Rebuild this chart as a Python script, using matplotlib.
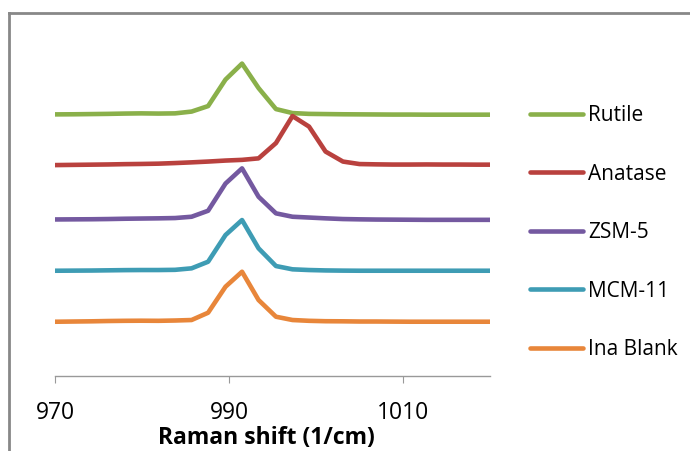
import matplotlib.pyplot as plt
from matplotlib.lines import Line2D

plt.rcParams['font.family'] = ['Open Sans', 'DejaVu Sans']

# Raman shift (1/cm)
shift = [968.4, 970.3, 972.2, 974.2, 976.1, 978.0, 979.9, 981.9, 983.8, 985.7,
         987.6, 989.6, 991.5, 993.4, 995.4, 997.3, 999.2, 1001.1, 1003.1, 1005.0,
         1006.9, 1008.8, 1010.8, 1012.7, 1014.6, 1016.5, 1018.5, 1020.4]

# stacked intensities (arbitrary units, already offset)
rutile = [26.17, 26.17, 26.18, 26.20, 26.22, 26.25, 26.27, 26.25, 26.27, 26.45,
          27.00, 29.65, 31.25, 28.80, 26.70, 26.30, 26.22, 26.20, 26.18, 26.17,
          26.16, 26.15, 26.15, 26.14, 26.14, 26.14, 26.14, 26.14]
anatase = [21.08, 21.10, 21.12, 21.14, 21.16, 21.19, 21.21, 21.24, 21.30, 21.37,
           21.45, 21.55, 21.62, 21.77, 23.30, 26.00, 24.95, 22.45, 21.45, 21.20,
           21.17, 21.15, 21.15, 21.16, 21.15, 21.15, 21.14, 21.14]
zsm5 = [15.65, 15.66, 15.67, 15.68, 15.70, 15.73, 15.75, 15.77, 15.80, 15.93,
        16.53, 19.25, 20.77, 17.93, 16.27, 15.93, 15.85, 15.77, 15.70, 15.67,
        15.65, 15.64, 15.63, 15.62, 15.62, 15.62, 15.62, 15.62]
mcm11 = [10.53, 10.53, 10.54, 10.55, 10.57, 10.59, 10.60, 10.60, 10.62, 10.77,
         11.43, 14.10, 15.60, 12.77, 11.00, 10.67, 10.60, 10.56, 10.54, 10.53,
         10.53, 10.53, 10.53, 10.53, 10.53, 10.53, 10.53, 10.53]
ina_blank = [5.42, 5.43, 5.45, 5.47, 5.50, 5.52, 5.53, 5.52, 5.55, 5.60,
             6.33, 8.93, 10.43, 7.60, 5.93, 5.60, 5.52, 5.48, 5.47, 5.45,
             5.45, 5.44, 5.43, 5.43, 5.43, 5.43, 5.43, 5.43]

labels = ['Rutile', 'Anatase', 'ZSM-5', 'MCM-11', 'Ina Blank']
series = [rutile, anatase, zsm5, mcm11, ina_blank]
colors = ['#8AB04A', '#B9413E', '#7459A0', '#3E9CB4', '#E8863A']
xticks = [970, 990, 1010]

fig = plt.figure(figsize=(6.9, 4.51), dpi=100)
ax = fig.add_axes([0.0797, 0.1663, 0.6304, 0.798])

for y, c, lab in zip(series, colors, labels):
    ax.plot(shift, y, color=c, lw=3.3, label=lab, solid_joinstyle='round')

ax.set_xlim(970, 1020)
ax.set_ylim(0, 36)
ax.set_xticks(xticks)
ax.set_yticks([])
for s in ['left', 'right', 'top']:
    ax.spines[s].set_visible(False)
ax.spines['bottom'].set_color('#999999')
ax.spines['bottom'].set_linewidth(1)
ax.tick_params(axis='x', direction='out', length=5, color='#999999',
               labelsize=16.5, pad=13)
ax.set_xlabel('Raman shift (1/cm)', fontsize=16.5, fontweight='bold')
ax.xaxis.set_label_coords(0.487, -0.140)

leg = ax.legend(loc='upper left', bbox_to_anchor=(0.768, 0.767),
                bbox_transform=fig.transFigure, frameon=False, fontsize=15,
                handlelength=2.55, handletextpad=0.25, labelspacing=1.8,
                borderpad=0, borderaxespad=0)
for h in leg.get_lines():
    h.set_solid_capstyle('round')

# chart area border (cropped at right and bottom)
fig.add_artist(Line2D([0.013, 0.013], [-0.1, 0.972], transform=fig.transFigure,
                      color='#888888', lw=2))
fig.add_artist(Line2D([0.013, 1.1], [0.972, 0.972], transform=fig.transFigure,
                      color='#888888', lw=2))

fig.savefig('out.png', dpi=100)
